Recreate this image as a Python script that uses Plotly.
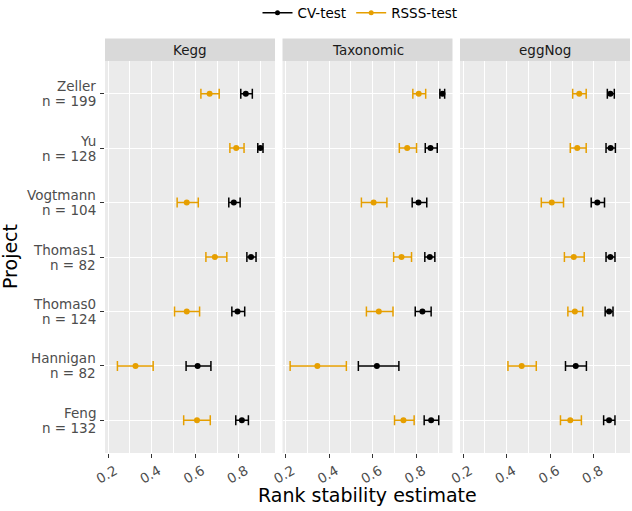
import plotly.graph_objects as go

# ---------------- data ----------------
projects = ["Zeller", "Yu", "Vogtmann", "Thomas1", "Thomas0", "Hannigan", "Feng"]
n_samples = [199, 128, 104, 82, 124, 82, 132]
panels = ["Kegg", "Taxonomic", "eggNog"]

kegg_cv_mean = [0.832, 0.899, 0.777, 0.856, 0.794, 0.611, 0.814]
kegg_cv_lo = [0.809, 0.887, 0.754, 0.837, 0.768, 0.558, 0.786]
kegg_cv_hi = [0.862, 0.911, 0.806, 0.879, 0.827, 0.672, 0.844]
kegg_rsss_mean = [0.666, 0.788, 0.561, 0.690, 0.561, 0.326, 0.608]
kegg_rsss_lo = [0.626, 0.759, 0.517, 0.649, 0.505, 0.243, 0.547]
kegg_rsss_hi = [0.710, 0.824, 0.614, 0.745, 0.620, 0.407, 0.669]

tax_cv_mean = [0.920, 0.865, 0.810, 0.862, 0.828, 0.619, 0.868]
tax_cv_lo = [0.908, 0.841, 0.781, 0.839, 0.795, 0.534, 0.836]
tax_cv_hi = [0.930, 0.896, 0.848, 0.885, 0.868, 0.720, 0.903]
tax_rsss_mean = [0.811, 0.758, 0.604, 0.732, 0.628, 0.346, 0.741]
tax_rsss_lo = [0.784, 0.722, 0.548, 0.696, 0.571, 0.221, 0.700]
tax_rsss_hi = [0.843, 0.801, 0.665, 0.778, 0.693, 0.479, 0.790]

egg_cv_mean = [0.876, 0.877, 0.816, 0.876, 0.870, 0.717, 0.870]
egg_cv_lo = [0.862, 0.856, 0.788, 0.856, 0.852, 0.670, 0.845]
egg_cv_hi = [0.894, 0.899, 0.849, 0.897, 0.888, 0.766, 0.897]
egg_rsss_mean = [0.733, 0.724, 0.607, 0.708, 0.713, 0.469, 0.692]
egg_rsss_lo = [0.703, 0.692, 0.559, 0.665, 0.681, 0.406, 0.647]
egg_rsss_hi = [0.765, 0.765, 0.661, 0.756, 0.749, 0.536, 0.743]

x_ticks = [0.2, 0.4, 0.6, 0.8]
x_tick_labels = ["0.2", "0.4", "0.6", "0.8"]

series_names = ["CV-test", "RSSS-test"]
series_colors = ["#000000", "#E69F00"]

panel_data = {
    "Kegg": [(kegg_cv_mean, kegg_cv_lo, kegg_cv_hi), (kegg_rsss_mean, kegg_rsss_lo, kegg_rsss_hi)],
    "Taxonomic": [(tax_cv_mean, tax_cv_lo, tax_cv_hi), (tax_rsss_mean, tax_rsss_lo, tax_rsss_hi)],
    "eggNog": [(egg_cv_mean, egg_cv_lo, egg_cv_hi), (egg_rsss_mean, egg_rsss_lo, egg_rsss_hi)],
}

# ---------------- figure ----------------
FONT = "DejaVu Sans"
W, H = 632, 511
ML, MR, MT, MB = 105, 2, 61, 58
PW = W - ML - MR
PH = H - MT - MB
GAP = 7.5
panel_w = (PW - 2 * GAP) / 3
domains = []
for i in range(3):
    a = i * (panel_w + GAP) / PW
    domains.append([a, min(1.0, a + panel_w / PW)])

fig = go.Figure()

for i, p in enumerate(panels):
    xa = "x" if i == 0 else f"x{i+1}"
    ya = "y" if i == 0 else f"y{i+1}"
    for (mean, lo, hi), name, col in zip(panel_data[p], series_names, series_colors):
        fig.add_trace(go.Scatter(
            x=mean, y=projects, xaxis=xa, yaxis=ya, mode="markers",
            marker=dict(color=col, size=6),
            error_x=dict(type="data", symmetric=False,
                         array=[h - m for h, m in zip(hi, mean)],
                         arrayminus=[m - l for m, l in zip(mean, lo)],
                         color=col, thickness=1.5, width=5),
            name=name, showlegend=False, hoverinfo="skip"))

# legend entries
for name, col in zip(series_names, series_colors):
    fig.add_trace(go.Scatter(x=[None], y=[None], mode="lines+markers",
                             line=dict(color=col, width=1.5),
                             marker=dict(color=col, size=5),
                             name=name, showlegend=True))

layout = dict(
    width=W, height=H,
    margin=dict(l=ML, r=MR, t=MT, b=MB, pad=0, autoexpand=False),
    paper_bgcolor="white", plot_bgcolor="#EBEBEB",
    font=dict(family=FONT, color="#4D4D4D", size=13.5),
    showlegend=True,
    legend=dict(orientation="h", x=(360 - ML) / PW, xanchor="center",
                yref="container", y=1 - 13 / H, yanchor="middle",
                font=dict(family=FONT, size=13.5, color="#000000"),
                itemwidth=30, tracegroupgap=0, bgcolor="rgba(0,0,0,0)"),
)

cat_order = list(reversed(projects))
for i in range(3):
    xk = "xaxis" if i == 0 else f"xaxis{i+1}"
    yk = "yaxis" if i == 0 else f"yaxis{i+1}"
    layout[xk] = dict(
        domain=domains[i], anchor="y" if i == 0 else f"y{i+1}",
        range=[0.186, 0.966], tickmode="array", tickvals=x_ticks, ticktext=x_tick_labels,
        tickangle=-30, ticklabelshift=7, ticks="outside", ticklen=4, tickcolor="#333333", tickwidth=1,
        tickfont=dict(family=FONT, size=13.5, color="#4D4D4D"),
        showgrid=True, gridcolor="white", gridwidth=1.1,
        minor=dict(dtick=0.1, tick0=0.1, showgrid=True, gridcolor="white", gridwidth=0.5, ticks=""),
        zeroline=False, showline=False, fixedrange=True,
    )
    layout[yk] = dict(
        domain=[0, 1], anchor="x" if i == 0 else f"x{i+1}",
        type="category", categoryorder="array", categoryarray=cat_order,
        range=[-0.6, len(projects) - 0.4],
        showticklabels=False, ticks="outside" if i == 0 else "", ticklen=4,
        tickcolor="#333333", tickwidth=1,
        showgrid=True, gridcolor="white", gridwidth=1.1,
        zeroline=False, showline=False, fixedrange=True,
        matches=None if i == 0 else "y",
    )

fig.update_layout(**layout)

strip_h = 22.5 / PH
shapes = []
annotations = []
for i, p in enumerate(panels):
    xr = "x domain" if i == 0 else f"x{i+1} domain"
    yr = "y domain" if i == 0 else f"y{i+1} domain"
    shapes.append(dict(type="rect", xref=xr, yref=yr, x0=0, x1=1, y0=1, y1=1 + strip_h,
                       fillcolor="#D9D9D9", line=dict(width=0), layer="below"))
    annotations.append(dict(text=p, xref=xr, yref=yr, x=0.5, y=1 + strip_h / 2,
                            xanchor="center", yanchor="middle", showarrow=False,
                            font=dict(family=FONT, size=13.5, color="#1A1A1A")))

# y tick labels (two tight lines, like ggplot)
for proj, n in zip(projects, n_samples):
    annotations.append(dict(text=proj, xref="paper", yref="y", x=0, y=proj,
                            xanchor="right", yanchor="middle", xshift=-8, yshift=7.5,
                            showarrow=False, borderpad=0,
                            font=dict(family=FONT, size=13.5, color="#4D4D4D")))
    annotations.append(dict(text=f"n = {n}", xref="paper", yref="y", x=0, y=proj,
                            xanchor="right", yanchor="middle", xshift=-8, yshift=-7.5,
                            showarrow=False, borderpad=0,
                            font=dict(family=FONT, size=13.5, color="#4D4D4D")))

annotations.append(dict(text="Rank stability estimate", xref="paper", yref="paper",
                        x=0.5, y=0, xanchor="center", yanchor="middle", yshift=-42,
                        showarrow=False, font=dict(family=FONT, size=19, color="#000000")))
annotations.append(dict(text="Project", xref="paper", yref="paper",
                        x=0, y=0.5, xanchor="center", yanchor="middle", xshift=10 - ML,
                        textangle=-90, showarrow=False,
                        font=dict(family=FONT, size=19, color="#000000")))

fig.update_layout(shapes=shapes, annotations=annotations)
fig.write_html("out.html", config={"displayModeBar": False},
               post_script="document.body.style.margin='0px';document.body.style.padding='0px';")
